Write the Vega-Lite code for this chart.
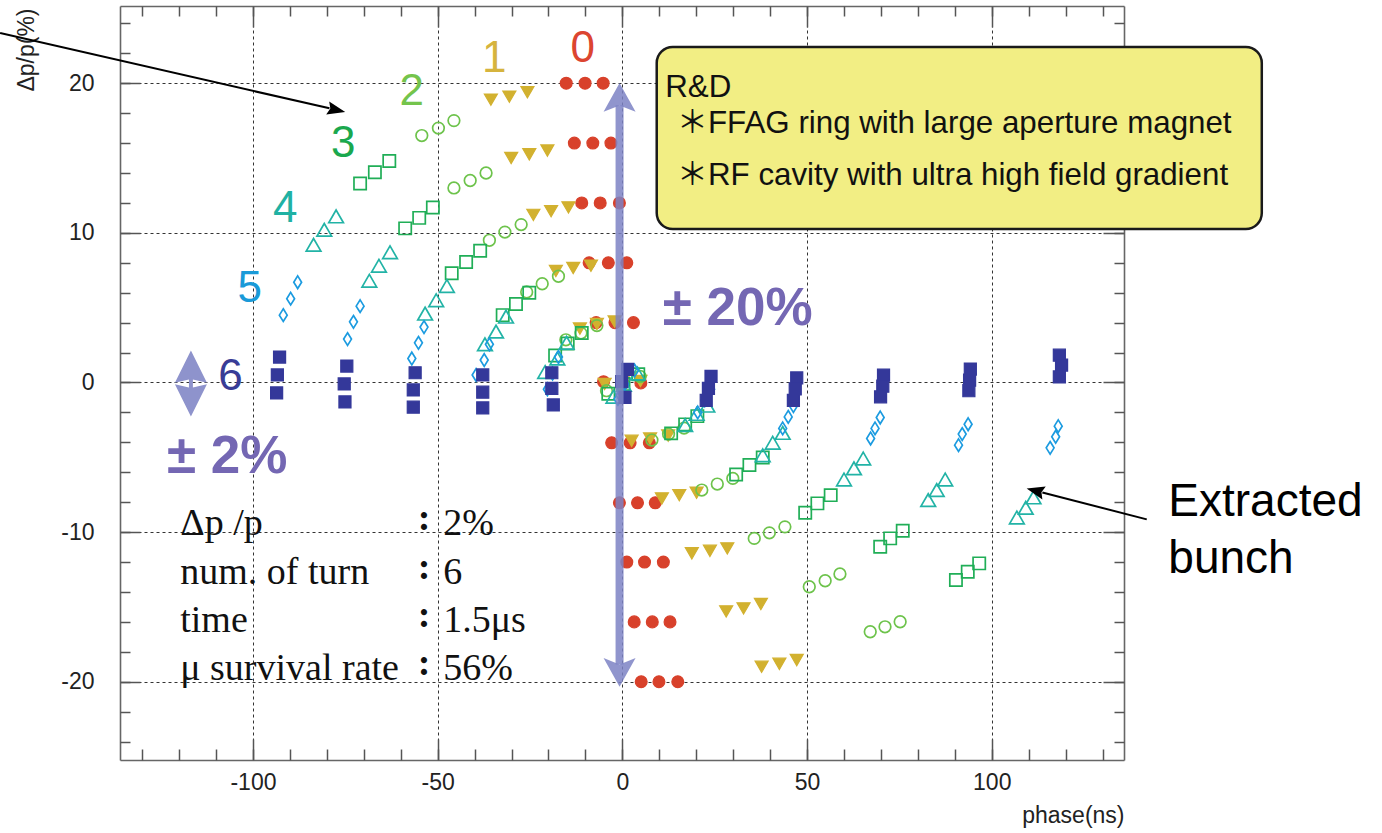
{
"$schema": "https://vega.github.io/schema/vega-lite/v6.json",
"width": 1004, "height": 754,
"autosize": {"type": "none"},
"padding": {"left": 120, "top": 6, "right": 258, "bottom": 73},
"background": "white",
"config": {
  "view": {"stroke": null},
  "axis": {"tickColor": "#555", "tickWidth": 1.5, "domainColor": "#666", "domainWidth": 1.6,
    "labelFont": "Liberation Sans", "labelFontSize": 23, "labelColor": "#222",
    "titleFont": "Liberation Sans", "titleFontSize": 23, "titleFontWeight": "normal", "titleColor": "#222",
    "gridColor": "#333", "gridDash": [3, 3], "gridWidth": 1, "gridOpacity": 1,
    "labelFlush": false, "labelOverlap": false}
},
"datasets": {
  "pts": [
    {"t":0,"x":-15.2,"y":20},{"t":0,"x":-10.1,"y":20},{"t":0,"x":-5.2,"y":20},
    {"t":0,"x":-13.0,"y":16},{"t":0,"x":-8.0,"y":16},{"t":0,"x":-3.1,"y":16},
    {"t":0,"x":-11.0,"y":12},{"t":0,"x":-6.0,"y":12},{"t":0,"x":-0.8,"y":12},
    {"t":0,"x":-9.0,"y":8},{"t":0,"x":-3.8,"y":8},{"t":0,"x":1.2,"y":8},
    {"t":0,"x":-7.1,"y":4},{"t":0,"x":-2.0,"y":4},{"t":0,"x":3.0,"y":4},
    {"t":0,"x":-5.1,"y":0.05},{"t":0,"x":0,"y":0},{"t":0,"x":5.0,"y":-0.03},
    {"t":0,"x":-2.9,"y":-4.03},{"t":0,"x":2.1,"y":-4.03},{"t":0,"x":7.3,"y":-4.03},
    {"t":0,"x":-0.8,"y":-8.04},{"t":0,"x":4.1,"y":-8.04},{"t":0,"x":8.9,"y":-8.04},
    {"t":0,"x":1.2,"y":-12},{"t":0,"x":6.0,"y":-12},{"t":0,"x":11.1,"y":-12},
    {"t":0,"x":3.2,"y":-16},{"t":0,"x":8.1,"y":-16},{"t":0,"x":12.9,"y":-16},
    {"t":0,"x":5.1,"y":-20},{"t":0,"x":9.9,"y":-20},{"t":0,"x":15.0,"y":-20},

    {"t":1,"x":-35.6,"y":18.9},{"t":1,"x":-30.6,"y":19.1},{"t":1,"x":-25.7,"y":19.4},
    {"t":1,"x":-30.1,"y":15.0},{"t":1,"x":-25.2,"y":15.25},{"t":1,"x":-20.3,"y":15.5},
    {"t":1,"x":-24.1,"y":11.2},{"t":1,"x":-19.3,"y":11.45},{"t":1,"x":-14.6,"y":11.7},
    {"t":1,"x":-18.0,"y":7.45},{"t":1,"x":-13.3,"y":7.65},{"t":1,"x":-8.5,"y":7.8},
    {"t":1,"x":-11.5,"y":3.6},{"t":1,"x":-6.9,"y":3.9},{"t":1,"x":-2.1,"y":4.07},
    {"t":1,"x":-4.8,"y":-0.1},{"t":1,"x":0.1,"y":0.0},{"t":1,"x":4.9,"y":0.1},
    {"t":1,"x":2.5,"y":-3.9},{"t":1,"x":7.5,"y":-3.75},{"t":1,"x":12.4,"y":-3.55},
    {"t":1,"x":10.7,"y":-7.75},{"t":1,"x":15.4,"y":-7.53},{"t":1,"x":20.1,"y":-7.37},
    {"t":1,"x":18.8,"y":-11.42},{"t":1,"x":23.7,"y":-11.25},{"t":1,"x":28.4,"y":-11.09},
    {"t":1,"x":28.1,"y":-15.3},{"t":1,"x":32.8,"y":-15.1},{"t":1,"x":37.5,"y":-14.8},
    {"t":1,"x":37.7,"y":-19.0},{"t":1,"x":42.5,"y":-18.8},{"t":1,"x":47.2,"y":-18.55},

    {"t":2,"x":-54.3,"y":16.5},{"t":2,"x":-49.8,"y":17.0},{"t":2,"x":-45.6,"y":17.5},
    {"t":2,"x":-45.6,"y":13.0},{"t":2,"x":-41.2,"y":13.5},{"t":2,"x":-36.9,"y":14.0},
    {"t":2,"x":-36.0,"y":9.5},{"t":2,"x":-31.8,"y":10.05},{"t":2,"x":-27.4,"y":10.55},
    {"t":2,"x":-25.9,"y":6.05},{"t":2,"x":-21.7,"y":6.6},{"t":2,"x":-17.3,"y":7.1},
    {"t":2,"x":-15.3,"y":2.85},{"t":2,"x":-11.2,"y":3.3},{"t":2,"x":-6.9,"y":3.8},
    {"t":2,"x":-4.3,"y":-0.55},{"t":2,"x":0.2,"y":-0.05},{"t":2,"x":4.8,"y":0.4},
    {"t":2,"x":8.0,"y":-3.85},{"t":2,"x":12.5,"y":-3.45},{"t":2,"x":16.7,"y":-3.05},
    {"t":2,"x":21.5,"y":-7.19},{"t":2,"x":25.7,"y":-6.79},{"t":2,"x":29.9,"y":-6.41},
    {"t":2,"x":35.7,"y":-10.42},{"t":2,"x":39.8,"y":-10.05},{"t":2,"x":44.0,"y":-9.65},
    {"t":2,"x":50.6,"y":-13.65},{"t":2,"x":54.9,"y":-13.25},{"t":2,"x":58.9,"y":-12.8},
    {"t":2,"x":67.1,"y":-16.66},{"t":2,"x":71.1,"y":-16.33},{"t":2,"x":75.2,"y":-15.99},

    {"t":3,"x":-71.0,"y":13.3},{"t":3,"x":-67.0,"y":14.05},{"t":3,"x":-63.1,"y":14.8},
    {"t":3,"x":-58.8,"y":10.3},{"t":3,"x":-55.0,"y":11.0},{"t":3,"x":-51.3,"y":11.7},
    {"t":3,"x":-46.2,"y":7.3},{"t":3,"x":-42.3,"y":8.05},{"t":3,"x":-38.5,"y":8.8},
    {"t":3,"x":-32.4,"y":4.5},{"t":3,"x":-28.8,"y":5.25},{"t":3,"x":-25.2,"y":6.0},
    {"t":3,"x":-18.2,"y":1.8},{"t":3,"x":-14.8,"y":2.6},{"t":3,"x":-11.0,"y":3.3},
    {"t":3,"x":-3.8,"y":-0.75},{"t":3,"x":0.3,"y":-0.1},{"t":3,"x":4.3,"y":0.55},
    {"t":3,"x":13.2,"y":-3.4},{"t":3,"x":17.0,"y":-2.8},{"t":3,"x":20.3,"y":-2.25},
    {"t":3,"x":30.8,"y":-6.15},{"t":3,"x":34.4,"y":-5.52},{"t":3,"x":38.0,"y":-5.01},
    {"t":3,"x":49.5,"y":-8.71},{"t":3,"x":52.8,"y":-8.08},{"t":3,"x":56.4,"y":-7.53},
    {"t":3,"x":69.8,"y":-10.98},{"t":3,"x":72.5,"y":-10.42},{"t":3,"x":75.9,"y":-9.91},
    {"t":3,"x":90.3,"y":-13.2},{"t":3,"x":93.5,"y":-12.65},{"t":3,"x":96.6,"y":-12.09},

    {"t":4,"x":-83.6,"y":9.2},{"t":4,"x":-80.7,"y":10.2},{"t":4,"x":-77.5,"y":11.1},
    {"t":4,"x":-68.5,"y":6.8},{"t":4,"x":-65.9,"y":7.8},{"t":4,"x":-62.9,"y":8.7},
    {"t":4,"x":-53.4,"y":4.6},{"t":4,"x":-50.4,"y":5.5},{"t":4,"x":-47.5,"y":6.45},
    {"t":4,"x":-37.2,"y":2.55},{"t":4,"x":-34.2,"y":3.4},{"t":4,"x":-31.5,"y":4.4},
    {"t":4,"x":-20.9,"y":0.7},{"t":4,"x":-17.6,"y":1.6},{"t":4,"x":-15.1,"y":2.65},
    {"t":4,"x":-2.4,"y":-0.95},{"t":4,"x":0.4,"y":-0.15},{"t":4,"x":4.1,"y":0.6},
    {"t":4,"x":17.0,"y":-2.85},{"t":4,"x":20.1,"y":-2.1},{"t":4,"x":23.0,"y":-1.55},
    {"t":4,"x":38.0,"y":-4.86},{"t":4,"x":40.7,"y":-4.03},{"t":4,"x":43.4,"y":-3.37},
    {"t":4,"x":60.0,"y":-6.48},{"t":4,"x":62.7,"y":-5.74},{"t":4,"x":65.2,"y":-5.08},
    {"t":4,"x":82.8,"y":-7.86},{"t":4,"x":85.1,"y":-7.19},{"t":4,"x":87.4,"y":-6.48},
    {"t":4,"x":106.8,"y":-9.02},{"t":4,"x":109.2,"y":-8.38},{"t":4,"x":111.3,"y":-7.68},

    {"t":5,"x":-91.8,"y":4.5},{"t":5,"x":-89.8,"y":5.6},{"t":5,"x":-87.9,"y":6.7},
    {"t":5,"x":-74.4,"y":2.9},{"t":5,"x":-72.8,"y":4.05},{"t":5,"x":-71.0,"y":5.1},
    {"t":5,"x":-57.0,"y":1.6},{"t":5,"x":-55.2,"y":2.65},{"t":5,"x":-53.7,"y":3.7},
    {"t":5,"x":-39.6,"y":0.5},{"t":5,"x":-37.4,"y":1.5},{"t":5,"x":-36.0,"y":2.55},
    {"t":5,"x":-20.3,"y":-0.45},{"t":5,"x":-18.9,"y":0.6},{"t":5,"x":-17.3,"y":1.7},
    {"t":5,"x":-1.2,"y":-1.1},{"t":5,"x":0.6,"y":-0.1},{"t":5,"x":3.3,"y":0.8},
    {"t":5,"x":20.4,"y":-2.0},{"t":5,"x":22.3,"y":-1.2},{"t":5,"x":23.9,"y":-0.45},
    {"t":5,"x":43.4,"y":-3.07},{"t":5,"x":44.9,"y":-2.3},{"t":5,"x":46.3,"y":-1.58},
    {"t":5,"x":67.2,"y":-3.74},{"t":5,"x":68.4,"y":-3.07},{"t":5,"x":69.8,"y":-2.34},
    {"t":5,"x":91.0,"y":-4.19},{"t":5,"x":92.0,"y":-3.45},{"t":5,"x":93.6,"y":-2.79},
    {"t":5,"x":115.8,"y":-4.37},{"t":5,"x":117.3,"y":-3.63},{"t":5,"x":118.0,"y":-2.92},

    {"t":6,"x":-92.8,"y":1.7},{"t":6,"x":-93.4,"y":0.5},{"t":6,"x":-93.6,"y":-0.7},
    {"t":6,"x":-74.6,"y":1.1},{"t":6,"x":-75.3,"y":-0.1},{"t":6,"x":-75.1,"y":-1.3},
    {"t":6,"x":-56.1,"y":0.65},{"t":6,"x":-56.6,"y":-0.5},{"t":6,"x":-56.6,"y":-1.65},
    {"t":6,"x":-37.8,"y":0.5},{"t":6,"x":-37.8,"y":-0.65},{"t":6,"x":-37.8,"y":-1.7},
    {"t":6,"x":-19.1,"y":0.65},{"t":6,"x":-19.1,"y":-0.4},{"t":6,"x":-18.7,"y":-1.5},
    {"t":6,"x":1.4,"y":0.87},{"t":6,"x":-0.2,"y":0.05},{"t":6,"x":0.7,"y":-1.0},
    {"t":6,"x":24.0,"y":0.4},{"t":6,"x":23.3,"y":-0.4},{"t":6,"x":22.7,"y":-1.2},
    {"t":6,"x":47.2,"y":0.3},{"t":6,"x":46.8,"y":-0.43},{"t":6,"x":46.3,"y":-1.2},
    {"t":6,"x":70.7,"y":0.49},{"t":6,"x":70.5,"y":-0.25},{"t":6,"x":69.9,"y":-0.96},
    {"t":6,"x":94.2,"y":0.9},{"t":6,"x":94.0,"y":0.15},{"t":6,"x":93.8,"y":-0.55},
    {"t":6,"x":118.3,"y":1.82},{"t":6,"x":118.9,"y":1.16},{"t":6,"x":118.3,"y":0.37}
  ],
  "turnlab": [
    {"t":0,"x":-10.7,"y":21.42,"s":"0"},
    {"t":1,"x":-34.7,"y":20.75,"s":"1"},
    {"t":2,"x":-57.0,"y":18.52,"s":"2"},
    {"t":3,"x":-75.6,"y":15.07,"s":"3"},
    {"t":4,"x":-91.3,"y":10.73,"s":"4"},
    {"t":5,"x":-100.9,"y":5.36,"s":"5"},
    {"t":6,"x":-106.1,"y":-0.47,"s":"6"}
  ],
  "big": [
    {"x":10.9,"y":3.83,"s":"± 20%"},
    {"x":-123.3,"y":-6.08,"s":"± 2%"}
  ],
  "info": [
    {"x":-119.7,"y":-10.2,"s":"Δp /p"},
    {"x":-119.7,"y":-13.5,"s":"num. of turn"},
    {"x":-119.7,"y":-16.66,"s":"time"},
    {"x":-119.7,"y":-19.89,"s":"μ survival rate"}
  ],
  "colon": [
    {"x":-53.7,"y":-10.2},{"x":-53.7,"y":-13.5},{"x":-53.7,"y":-16.66},{"x":-53.7,"y":-19.89}
  ],
  "vals": [
    {"x":-48.5,"y":-10.2,"s":"2%"},
    {"x":-48.5,"y":-13.5,"s":"6"},
    {"x":-48.5,"y":-16.66,"s":"1.5μs"},
    {"x":-48.5,"y":-19.89,"s":"56%"}
  ],
  "box": [{"x":9.3,"x2":173.1,"y":22.42,"y2":10.26}],
  "boxtext": [
    {"x":11.6,"y":19.08,"s":"R&D"},
    {"x":14.7,"y":16.67,"s":"＊FFAG ring with large aperture magnet"},
    {"x":14.7,"y":13.23,"s":"＊RF cavity with ultra high field gradient"}
  ],
  "ext": [
    {"x":147.8,"y":-8.93,"s":"Extracted"},
    {"x":147.8,"y":-12.74,"s":"bunch"}
  ],
  "shaft": [{"x":-0.76,"y":18.52,"y2":-18.85}],
  "heads": [{"x":-0.76,"y":18.94,"k":"up"},{"x":-0.76,"y":-19.27,"k":"down"}],
  "dbl": [{"x":-116.8,"y":-0.07}],
  "lines": [
    {"x":-168.46,"y":23.35,"x2":-79.3,"y2":18.32},
    {"x":141.96,"y":-9.15,"x2":113.7,"y2":-7.35}
  ],
  "tips": [
    {"x":-77.4,"y":18.21,"a":12.9},
    {"x":111.8,"y":-7.23,"a":194.5}
  ]
},
"resolve": {"axis": {"x": "independent", "y": "independent"}},
"encoding": {
  "x": {"field":"x","type":"quantitative","scale":{"domain":[-136,135.8],"nice":false,"zero":false},"axis":null},
  "y": {"field":"y","type":"quantitative","scale":{"domain":[-25.23,25.16],"nice":false,"zero":false},"axis":null}
},
"layer": [
  {
    "data": {"name":"pts"},
    "transform": [{"filter":"datum.t == 0"}],
    "mark": {"type":"point","shape":"circle","filled":true,"size":140,"color":"#d8412b","stroke":"#d8412b","strokeWidth":1.2,"opacity":1},
    "encoding": {
      "x": {"field":"x","type":"quantitative","scale":{"domain":[-136,135.8],"nice":false,"zero":false},
        "axis":{"orient":"bottom","values":[-100,-50,0,50,100],"grid":true,"tickSize":-21,"labelPadding":32,
          "labelExpr":"(datum.value < 0 ? '-' : '') + abs(datum.value)",
          "title":"phase(ns)","titleAnchor":"end","titleAlign":"right","titleBaseline":"alphabetic","titleX":1004,"titleY":62}},
      "y": {"field":"y","type":"quantitative","scale":{"domain":[-25.23,25.16],"nice":false,"zero":false},
        "axis":{"orient":"left","values":[-20,-10,0,10,20],"grid":true,"tickSize":-20,"labelPadding":46,
          "labelExpr":"(datum.value < 0 ? '-' : '') + abs(datum.value)",
          "title":"Δp/p(%)","titleAngle":-90,"titleAlign":"right","titleBaseline":"alphabetic","titleX":-87,"titleY":2}}
    }
  },
  {
    "data": {"name":"pts"},
    "transform": [{"filter":"datum.t == 1"}],
    "mark": {"type":"point","shape":"triangle-down","filled":true,"size":170,"color":"#d2b12f","stroke":"#d2b12f","strokeWidth":1.2,"opacity":1}
  },
  {
    "data": {"name":"pts"},
    "transform": [{"filter":"datum.t == 2"}],
    "mark": {"type":"point","shape":"circle","filled":false,"size":135,"color":"#6dc34b","strokeWidth":1.7,"opacity":1}
  },
  {
    "data": {"name":"pts"},
    "transform": [{"filter":"datum.t == 3"}],
    "mark": {"type":"point","shape":"square","filled":false,"size":150,"color":"#20ae57","strokeWidth":1.7,"opacity":1}
  },
  {
    "data": {"name":"pts"},
    "transform": [{"filter":"datum.t == 4"}],
    "mark": {"type":"point","shape":"triangle-up","filled":false,"size":215,"color":"#22b3a6","strokeWidth":1.7,"opacity":1}
  },
  {
    "data": {"name":"pts"},
    "transform": [{"filter":"datum.t == 5"}],
    "mark": {"type":"point","shape":"M0,-1L0.62,0L0,1L-0.62,0Z","filled":false,"size":160,"color":"#1b9be0","strokeWidth":1.7,"opacity":1}
  },
  {
    "data": {"name":"pts"},
    "transform": [{"filter":"datum.t == 6"}],
    "mark": {"type":"point","shape":"square","filled":true,"size":145,"color":"#34389a","stroke":"#34389a","strokeWidth":1.2,"opacity":1}
  },
  {
    "data": {"name":"turnlab"},
    "mark": {"type":"text","font":"Liberation Sans","fontSize":44,"align":"center","baseline":"alphabetic"},
    "encoding": {
      "x": {"field":"x","type":"quantitative","scale":{"domain":[-136,135.8],"nice":false,"zero":false},
        "axis":{"orient":"bottom","values":[-130,-120,-110,-100,-90,-80,-70,-60,-50,-40,-30,-20,-10,0,10,20,30,40,50,60,70,80,90,100,110,120,130],
          "tickSize":-11,"labels":false,"domain":false,"grid":false,"title":null}},
      "y": {"field":"y","type":"quantitative","scale":{"domain":[-25.23,25.16],"nice":false,"zero":false},
        "axis":{"orient":"left","values":[-24,-22,-20,-18,-16,-14,-12,-10,-8,-6,-4,-2,0,2,4,6,8,10,12,14,16,18,20,22,24],
          "tickSize":-10,"labels":false,"domain":false,"grid":false,"title":null}},
      "text": {"field":"s"},
      "color": {"field":"t","type":"nominal","scale":{"domain":[0,1,2,3,4,5,6],"range":["#dc4530","#d6b43e","#74c44c","#1aa84e","#20b1a3","#1a9ad8","#393c96"]},"legend":null}
    }
  },
  {
    "data": {"name":"big"},
    "mark": {"type":"text","font":"Liberation Sans","fontSize":53,"fontWeight":"bold","align":"left","baseline":"alphabetic","color":"#7467b3"},
    "encoding": {
      "x": {"field":"x","type":"quantitative","scale":{"domain":[-136,135.8],"nice":false,"zero":false},
        "axis":{"orient":"top","values":[-100,-50,0,50,100],"tickSize":-21,"labels":false,"grid":false,"title":null}},
      "y": {"field":"y","type":"quantitative","scale":{"domain":[-25.23,25.16],"nice":false,"zero":false},
        "axis":{"orient":"right","values":[-20,-10,0,10,20],"tickSize":-21,"labels":false,"grid":false,"title":null}},
      "text": {"field":"s"}
    }
  },
  {
    "data": {"name":"info"},
    "mark": {"type":"text","font":"Liberation Serif","fontSize":38,"align":"left","baseline":"alphabetic","color":"#111"},
    "encoding": {
      "x": {"field":"x","type":"quantitative","scale":{"domain":[-136,135.8],"nice":false,"zero":false},
        "axis":{"orient":"top","values":[-130,-120,-110,-100,-90,-80,-70,-60,-50,-40,-30,-20,-10,0,10,20,30,40,50,60,70,80,90,100,110,120,130],
          "tickSize":-10,"labels":false,"domain":false,"grid":false,"title":null}},
      "y": {"field":"y","type":"quantitative","scale":{"domain":[-25.23,25.16],"nice":false,"zero":false},
        "axis":{"orient":"right","values":[-24,-22,-20,-18,-16,-14,-12,-10,-8,-6,-4,-2,0,2,4,6,8,10,12,14,16,18,20,22,24],
          "tickSize":-10,"labels":false,"domain":false,"grid":false,"title":null}},
      "text": {"field":"s"}
    }
  },
  {
    "data": {"name":"colon"},
    "mark": {"type":"text","font":"Liberation Serif","fontSize":38,"fontWeight":"bold","align":"center","baseline":"alphabetic","dy":-5,"color":"#111","text":":"}
  },
  {
    "data": {"name":"vals"},
    "mark": {"type":"text","font":"Liberation Serif","fontSize":38,"align":"left","baseline":"alphabetic","color":"#111"},
    "encoding": {"text": {"field":"s"}}
  },
  {
    "data": {"name":"box"},
    "mark": {"type":"rect","fill":"#f2ee84","stroke":"#1a1a1a","strokeWidth":2.5,"cornerRadius":16},
    "encoding": {"x2": {"field":"x2"}, "y2": {"field":"y2"}}
  },
  {
    "data": {"name":"boxtext"},
    "mark": {"type":"text","font":"Liberation Sans, Noto Sans CJK JP","fontSize":31.3,"align":"left","baseline":"alphabetic","color":"#111"},
    "encoding": {"text": {"field":"s"}}
  },
  {
    "data": {"name":"ext"},
    "mark": {"type":"text","font":"Liberation Sans","fontSize":46,"align":"left","baseline":"alphabetic","color":"#000"},
    "encoding": {"text": {"field":"s"}}
  },
  {
    "data": {"name":"shaft"},
    "mark": {"type":"rule","color":"#7d82c4","strokeWidth":8,"opacity":0.85},
    "encoding": {"y2": {"field":"y2"}}
  },
  {
    "data": {"name":"heads"},
    "mark": {"type":"point","filled":true,"size":1024,"color":"#7d82c4","opacity":0.85,"strokeWidth":0},
    "encoding": {
      "shape": {"field":"k","type":"nominal","scale":{"domain":["up","down"],"range":["M0,-1L1,0.8L0,0.4L-1,0.8Z","M0,1L1,-0.8L0,-0.4L-1,-0.8Z"]},"legend":null}
    }
  },
  {
    "data": {"name":"dbl"},
    "mark": {"type":"point","filled":true,"size":4356,"color":"#8e93cc","opacity":1,"strokeWidth":0,
      "shape":"M0,-1L0.485,-0.02L0.06,-0.12L0.06,0.12L0.485,0.02L0,1L-0.485,0.02L-0.06,0.12L-0.06,-0.12L-0.485,-0.02Z"}
  },
  {
    "data": {"name":"lines"},
    "mark": {"type":"rule","color":"#000","strokeWidth":2},
    "encoding": {"x2": {"field":"x2"}, "y2": {"field":"y2"}}
  },
  {
    "data": {"name":"tips"},
    "mark": {"type":"point","filled":true,"size":324,"color":"#000","opacity":1,"strokeWidth":0,"shape":"M1,0L-1,-0.75L-0.7,0L-1,0.75Z"},
    "encoding": {"angle": {"field":"a","type":"quantitative","scale":null}}
  }
]
}
